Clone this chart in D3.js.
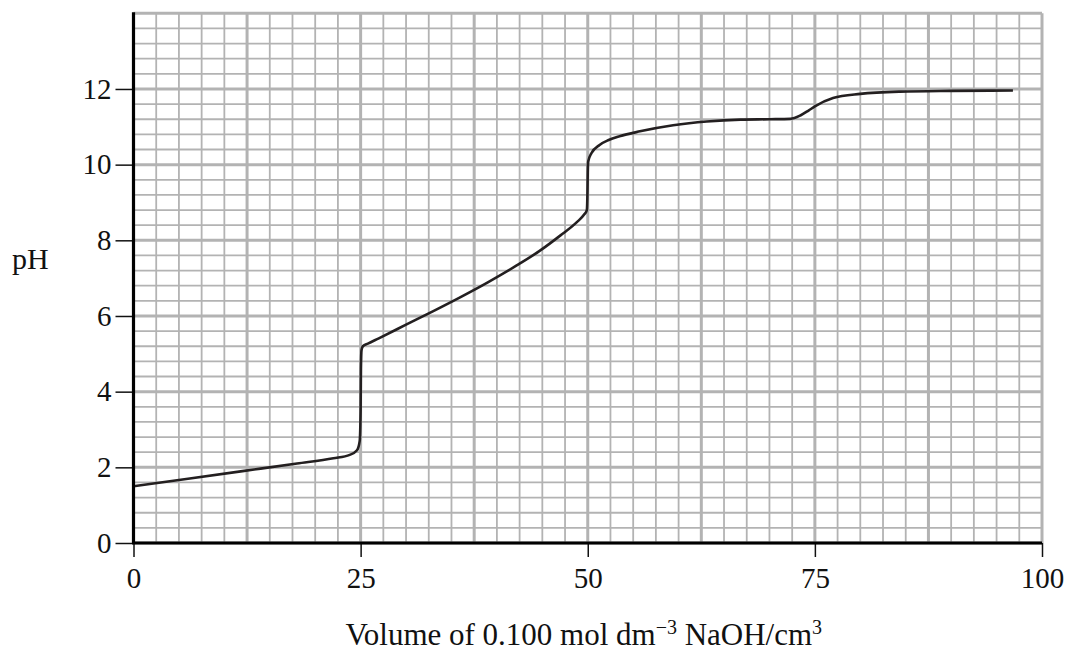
<!DOCTYPE html>
<html>
<head>
<meta charset="utf-8">
<script src="https://cdn.jsdelivr.net/npm/d3@7"></script>
<style>
  body { margin: 0; background: #fff; }
  svg { display: block; }
  text { font-family: "Liberation Serif", "DejaVu Serif", serif; fill: #111; }
</style>
</head>
<body>
<svg id="chart"></svg>
<script>
// titration curve (volume in cm3, pH)
const volume = [0, 6, 12, 18, 22, 23.8, 24.6, 24.9, 25.0, 25.03, 25.1, 25.25, 25.8, 27, 30, 33, 36, 39, 42, 44.7, 47, 48.8, 49.6, 49.9, 49.97, 50.0, 50.05, 50.4, 51.3, 52.3, 53.5, 55.75, 59.4, 63.1, 66.8, 70, 72.3, 73.4, 74.3, 75, 77, 80, 84.4, 90, 96.8];
const pH     = [1.5, 1.7, 1.9, 2.1, 2.24, 2.33, 2.45, 2.7, 3.5, 4.6, 5.1, 5.2, 5.27, 5.41, 5.77, 6.13, 6.5, 6.89, 7.31, 7.72, 8.13, 8.48, 8.68, 8.8, 9.3, 9.8, 10.08, 10.3, 10.52, 10.65, 10.75, 10.88, 11.04, 11.14, 11.19, 11.2, 11.21, 11.3, 11.43, 11.54, 11.76, 11.87, 11.93, 11.95, 11.96];

const xTicks = [0, 25, 50, 75, 100];
const yTicks = [0, 2, 4, 6, 8, 10, 12];

const width = 1068, height = 654;
const margin = { left: 133.5, right: 26, top: 13.3, bottom: 111 };

const svg = d3.select("#chart").attr("width", width).attr("height", height);

const x = d3.scaleLinear().domain([0, 100]).range([margin.left, width - margin.right]);
const y = d3.scaleLinear().domain([0, 14]).range([height - margin.bottom, margin.top]);

// graph paper grid
const grid = svg.append("g");
d3.range(0, 100.01, 2.5).forEach((v, i) => {
  grid.append("line")
    .attr("x1", x(v)).attr("x2", x(v))
    .attr("y1", y(0)).attr("y2", y(14))
    .attr("stroke", "#b3b3b3")
    .attr("stroke-width", i % 5 === 0 ? 3 : 1.8);
});
d3.range(0, 14.01, 0.4).forEach((v, i) => {
  grid.append("line")
    .attr("x1", x(0)).attr("x2", x(100))
    .attr("y1", y(v)).attr("y2", y(v))
    .attr("stroke", "#b3b3b3")
    .attr("stroke-width", i % 5 === 0 ? 3 : 1.8);
});

// the curve
const pts = volume.map((v, i) => [v, pH[i]]);
const line = d3.line()
  .x(d => x(d[0]))
  .y(d => y(d[1]))
  .curve(d3.curveMonotoneX);

svg.append("path")
  .datum(pts)
  .attr("d", line)
  .attr("fill", "none")
  .attr("stroke", "#231f20")
  .attr("stroke-width", 2.6);

// axes
const xAxis = svg.append("g")
  .attr("transform", `translate(0,${y(0)})`)
  .call(d3.axisBottom(x).tickValues(xTicks).tickSize(14).tickPadding(10));
const yAxis = svg.append("g")
  .attr("transform", `translate(${x(0)},0)`)
  .call(d3.axisLeft(y).tickValues(yTicks).tickSize(18).tickPadding(4));

[xAxis, yAxis].forEach(g => {
  g.attr("font-size", null).attr("font-family", null);
  g.select(".domain").remove();
  g.selectAll(".tick line").attr("stroke", "#111").attr("stroke-width", 1.5);
  g.selectAll(".tick text").style("font-size", "29px").attr("fill", "#111");
});

svg.append("line")
  .attr("x1", x(0) - 1.5).attr("x2", x(100))
  .attr("y1", y(0)).attr("y2", y(0))
  .attr("stroke", "#000").attr("stroke-width", 3.2);
svg.append("line")
  .attr("x1", x(0)).attr("x2", x(0))
  .attr("y1", y(0)).attr("y2", y(14) - 1)
  .attr("stroke", "#000").attr("stroke-width", 3.2);

// labels
svg.append("text")
  .attr("x", 12).attr("y", 269)
  .style("font-size", "30px")
  .text("pH");

const xl = svg.append("text")
  .attr("x", x(50) - 4).attr("y", 645)
  .attr("text-anchor", "middle")
  .style("font-size", "31px");
xl.append("tspan").text("Volume of 0.100 mol dm");
xl.append("tspan").attr("dy", -11).style("font-size", "20px").text("\u22123");
xl.append("tspan").attr("dy", 11).text(" NaOH/cm");
xl.append("tspan").attr("dy", -11).style("font-size", "20px").text("3");
</script>
</body>
</html>
